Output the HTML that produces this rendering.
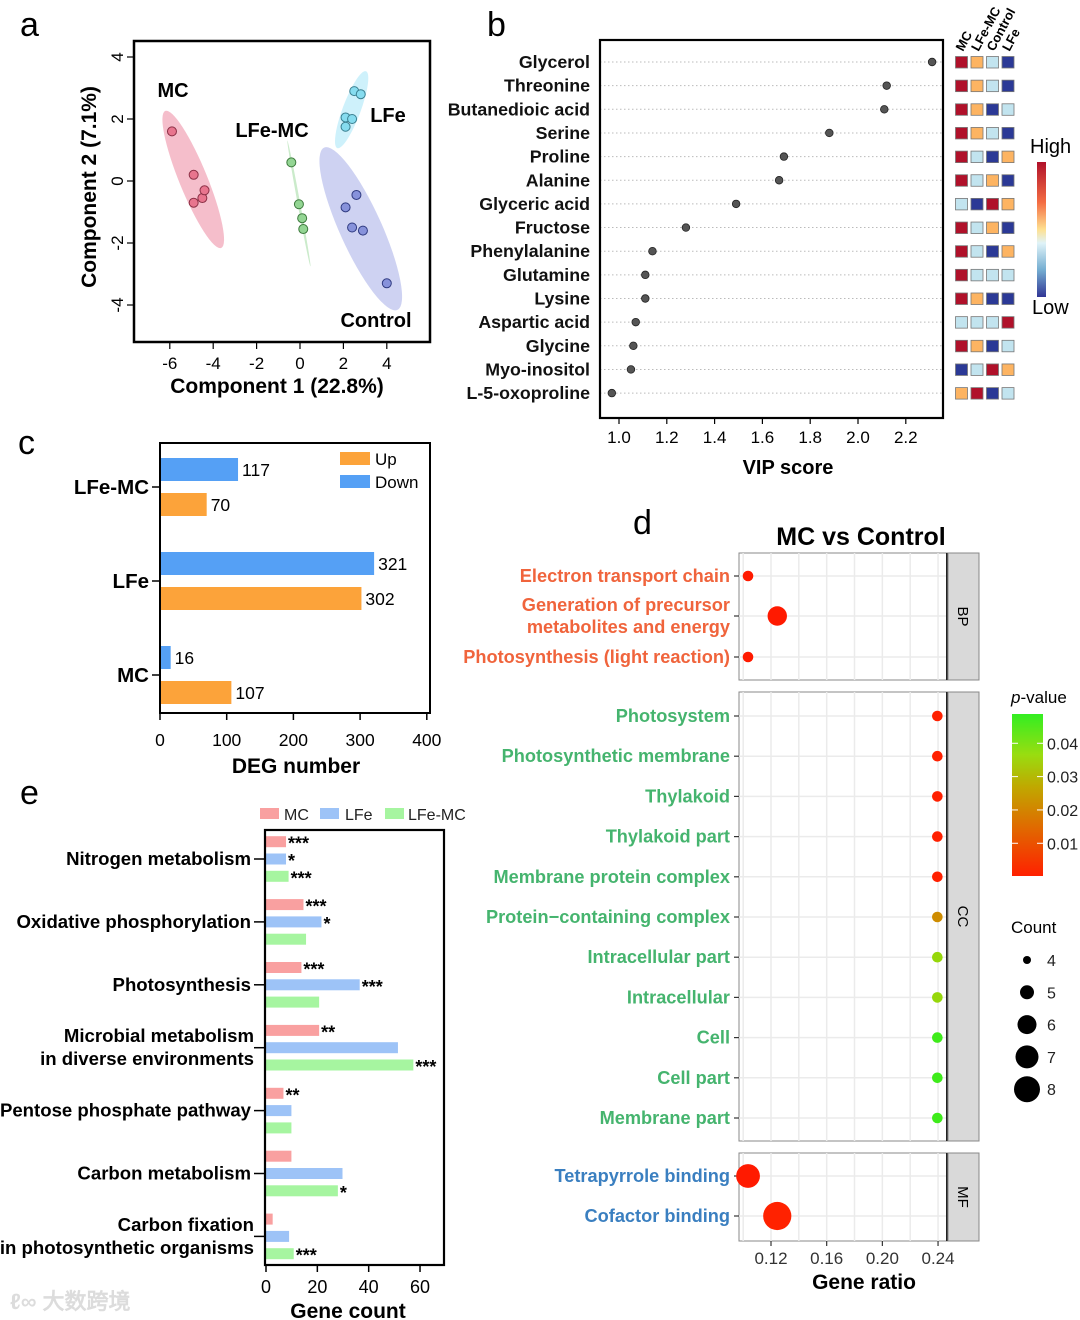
<!DOCTYPE html>
<html><head><meta charset="utf-8">
<style>
html,body{margin:0;padding:0;background:#fff;}
svg{display:block;font-family:"Liberation Sans",Arial,sans-serif;}
.b{font-weight:bold;}
</style></head>
<body>
<svg id="fig" width="1080" height="1320" viewBox="0 0 1080 1320" xmlns="http://www.w3.org/2000/svg">
<text x="20" y="36" font-size="34">a</text>
<text x="487" y="36" font-size="34">b</text>
<text x="18" y="454" font-size="34">c</text>
<text x="633" y="534" font-size="34">d</text>
<text x="20" y="804" font-size="34">e</text>
<text x="10" y="1309" font-size="22" fill="#dcdcdc" class="b">ℓ∞ 大数跨境</text>
</svg>
<script>
// ---------- DATA ----------
// panel a
const pcaGroups = ["MC","LFe-MC","LFe","Control"];
const pcaX = [[-5.9,-4.9,-4.9,-4.5,-4.4],[-0.4,-0.05,0.1,0.15],[2.5,2.8,2.1,2.4,2.1],[2.6,2.1,2.4,2.9,4.0]];
const pcaY = [[1.6,0.2,-0.7,-0.55,-0.3],[0.6,-0.75,-1.2,-1.55],[2.9,2.8,2.05,2.0,1.75],[-0.45,-0.85,-1.5,-1.6,-3.3]];
const pcaXTicks = [-6,-4,-2,0,2,4];
const pcaYTicks = [4,2,0,-2,-4];
// panel b
const vipNames = ["Glycerol","Threonine","Butanedioic acid","Serine","Proline","Alanine","Glyceric acid","Fructose","Phenylalanine","Glutamine","Lysine","Aspartic acid","Glycine","Myo-inositol","L-5-oxoproline"];
const vipScores = [2.31,2.12,2.11,1.88,1.69,1.67,1.49,1.28,1.14,1.11,1.11,1.07,1.06,1.05,0.97];
const vipTicks = [1.0,1.2,1.4,1.6,1.8,2.0,2.2];
const heatCols = ["MC","LFe-MC","Control","LFe"];
const heatVals = [[3,2,1,0],[3,2,1,0],[3,2,0,1],[3,2,1,0],[3,1,0,2],[3,1,2,0],[1,0,3,2],[3,1,2,0],[3,1,0,2],[3,1,1,1],[3,2,0,0],[1,1,1,3],[3,2,0,1],[0,1,3,2],[2,3,0,1]];
// panel c
const degCats = ["LFe-MC","LFe","MC"];
const degDown = [117,321,16];
const degUp = [70,302,107];
const degTicks = [0,100,200,300,400];
// panel d
const goBP = ["Electron transport chain","Generation of precursor|metabolites and energy","Photosynthesis (light reaction)"];
const goBPRatio = [0.1035,0.1245,0.1035];
const goBPCount = [4,6,4];
const goBPP = [0.003,0.003,0.003];
const goCC = ["Photosystem","Photosynthetic membrane","Thylakoid","Thylakoid part","Membrane protein complex","Protein\u2212containing complex","Intracellular part","Intracellular","Cell","Cell part","Membrane part"];
const goCCRatio = [0.2395,0.2395,0.2395,0.2395,0.2395,0.2395,0.2395,0.2395,0.2395,0.2395,0.2395];
const goCCCount = [4,4,4,4,4,4,4,4,4,4,4];
const goCCP = [0.006,0.006,0.006,0.006,0.006,0.026,0.04,0.04,0.048,0.048,0.048];
const goMF = ["Tetrapyrrole binding","Cofactor binding"];
const goMFRatio = [0.1035,0.1245];
const goMFCount = [7,8];
const goMFP = [0.003,0.007];
const goXTicks = [0.12,0.16,0.20,0.24];
const pTicks = [0.04,0.03,0.02,0.01];
const countLegend = [4,5,6,7,8];
// panel e
const keggCats = ["Nitrogen metabolism","Oxidative phosphorylation","Photosynthesis","Microbial metabolism|in diverse environments","Pentose phosphate pathway","Carbon metabolism","Carbon fixation|in photosynthetic organisms"];
const keggMC = [7.8,14.6,13.8,20.7,6.8,9.9,2.6];
const keggLFe = [7.8,21.6,36.5,51.4,9.9,29.8,9.0];
const keggLFeMC = [8.8,15.6,20.7,57.4,9.9,28.0,10.8];
const keggStarsMC = ["***","***","***","**","**","",""];
const keggStarsLFe = ["*","*","***","","","",""];
const keggStarsLFeMC = ["***","","","***","","*","***"];
const keggTicks = [0,20,40,60];

// ---------- helpers ----------
const NS="http://www.w3.org/2000/svg";
const svg=document.getElementById('fig');
function mk(tag,attrs,parent){const e=document.createElementNS(NS,tag);for(const k in attrs)e.setAttribute(k,attrs[k]);(parent||svg).appendChild(e);return e;}
function txt(s,attrs,parent){const e=mk('text',attrs,parent);e.textContent=s;return e;}

// ---------- panel a ----------
(function(){
const g=mk('g',{});


const xs=v=>300+v*21.7, ys=v=>181-v*31;
const fills=["#f3b3c2","#c2e8c2","#c6eefa","#c5caf0"];
const pts=["#e8758e","#93d593","#86dcef","#8792db"];
const strokes=["#8b2f45","#3d7a3d","#3a7f90","#2f3a80"];
const ell=[[74,14,67.8],[64,1.3,79.6],[41,9,-69.5],[89,21,65.7]];
pcaGroups.forEach((gn,i)=>{
 let mx=0,my=0;pcaX[i].forEach((v,j)=>{mx+=xs(v);my+=ys(pcaY[i][j]);});mx/=pcaX[i].length;my/=pcaX[i].length;
 const e=mk('ellipse',{cx:mx,cy:my,rx:ell[i][0],ry:ell[i][1],transform:`rotate(${ell[i][2]} ${mx} ${my})`,fill:fills[i],opacity:0.85},g);
 
 
});
pcaGroups.forEach((gn,i)=>{
 pcaX[i].forEach((v,j)=>{
  const c=mk('circle',{cx:xs(v),cy:ys(pcaY[i][j]),r:4.5,fill:pts[i],stroke:strokes[i],'stroke-width':1},g);
  
  
 });
});
const box=mk('rect',{x:134,y:41,width:296,height:301,fill:'none',stroke:'#000','stroke-width':2.5},g);


pcaXTicks.forEach(t=>{
 mk('line',{x1:xs(t),x2:xs(t),y1:343,y2:349,stroke:'#000','stroke-width':1.2},g);
 const l=txt(t,{x:xs(t),y:369,'font-size':17,'text-anchor':'middle'},g);
 
 
});
pcaYTicks.forEach(t=>{
 mk('line',{x1:127,x2:133,y1:ys(t),y2:ys(t),stroke:'#000','stroke-width':1.2},g);
 const l=txt(t,{x:0,y:0,'font-size':17,'text-anchor':'middle',transform:`translate(123 ${ys(t)}) rotate(-90)`},g);
 
 
});
const xt=txt('Component 1 (22.8%)',{x:277,y:393,'font-size':21,'text-anchor':'middle',class:'b'},g);


const yt=txt('Component 2 (7.1%)',{x:0,y:0,'font-size':21,'text-anchor':'middle',class:'b',transform:'translate(96 187) rotate(-90)'},g);


const lab=[["MC",173,97],["LFe-MC",272,137],["LFe",388,122],["Control",376,327]];
lab.forEach(a=>{const t=txt(a[0],{x:a[1],y:a[2],'font-size':20,'text-anchor':'middle',class:'b'},g);
 
 });
})();

// ---------- panel b ----------
(function(){
const g=mk('g',{});


const xs=v=>619+(v-1)*239, ys=i=>62+i*23.65;
vipNames.forEach((n,i)=>{
 mk('line',{x1:600,x2:943,y1:ys(i),y2:ys(i),stroke:'#bbb','stroke-width':1,'stroke-dasharray':'1.5 2.5'},g);
 const l=txt(n,{x:590,y:ys(i)+6,'font-size':17.8,'text-anchor':'end',class:'b',fill:'#111'},g);
 
 
 const c=mk('circle',{cx:xs(vipScores[i]),cy:ys(i),r:3.8,fill:'#555',stroke:'#222','stroke-width':0.8},g);
 
 
});
const box=mk('rect',{x:600,y:40,width:343,height:378,fill:'none',stroke:'#000','stroke-width':2.2},g);


vipTicks.forEach(t=>{
 mk('line',{x1:xs(t),x2:xs(t),y1:418,y2:424,stroke:'#000','stroke-width':1.2},g);
 const l=txt(t.toFixed(1),{x:xs(t),y:443,'font-size':17,'text-anchor':'middle'},g);
 
 
});
const xt=txt('VIP score',{x:788,y:474,'font-size':20,'text-anchor':'middle',class:'b'},g);


const hc=["#2b3996","#c2e4ef","#fdb462","#b0112a"];
heatVals.forEach((row,i)=>{row.forEach((v,j)=>{
 const r=mk('rect',{x:955.5+j*15.5,y:ys(i)-5.5,width:12,height:11.5,fill:hc[v],stroke:'#777','stroke-width':0.8},g);
 
 
});});
heatCols.forEach((c,j)=>{
 const t=txt(c,{x:0,y:0,'font-size':13,class:'b',transform:`translate(${963+j*15.5} 52) rotate(-62)`},g);
 
 
});
const defs=mk('defs',{},svg);
const lg=mk('linearGradient',{id:'hl',x1:0,y1:0,x2:0,y2:1},defs);
[["0","#b0112a"],["0.3","#f46d43"],["0.5","#fee090"],["0.6","#e0f3f8"],["0.8","#74add1"],["1","#313695"]].forEach(s=>mk('stop',{offset:s[0],'stop-color':s[1]},lg));
const cb=mk('rect',{x:1037,y:162,width:9,height:135,fill:'url(#hl)'},g);


const h=txt('High',{x:1030,y:153,'font-size':20},g);


const lo=txt('Low',{x:1032,y:314,'font-size':20},g);


})();

// ---------- panel c ----------
(function(){
const g=mk('g',{});


const xs=v=>160+v*0.667;
const yc=[487,581,675];
degCats.forEach((c,i)=>{
 const bd=mk('rect',{x:160,y:yc[i]-29,width:xs(degDown[i])-160,height:23,fill:'#55a0f5'},g);
 
 
 const bu=mk('rect',{x:160,y:yc[i]+6,width:xs(degUp[i])-160,height:23,fill:'#fca33a'},g);
 
 
 const vd=txt(degDown[i],{x:xs(degDown[i])+4,y:yc[i]-11,'font-size':17.5},g);
 
 
 const vu=txt(degUp[i],{x:xs(degUp[i])+4,y:yc[i]+24,'font-size':17.5},g);
 
 
 mk('line',{x1:152,x2:160,y1:yc[i],y2:yc[i],stroke:'#000','stroke-width':1.5},g);
 const l=txt(c,{x:149,y:yc[i]+7,'font-size':20.5,'text-anchor':'end',class:'b'},g);
 
 
});
mk('path',{d:'M160 443 L430 443 L430 713 L160 713 Z',fill:'none',stroke:'#000','stroke-width':2},g);
degTicks.forEach(t=>{
 mk('line',{x1:xs(t),x2:xs(t),y1:713,y2:720,stroke:'#000','stroke-width':1.5},g);
 const l=txt(t,{x:xs(t),y:746,'font-size':17.5,'text-anchor':'middle'},g);
 
 
});
const xt=txt('DEG number',{x:296,y:773,'font-size':21,'text-anchor':'middle',class:'b'},g);


const l1=mk('rect',{x:340,y:452,width:30,height:13,fill:'#fca33a'},g);


const t1=txt('Up',{x:375,y:465,'font-size':17},g);


const l2=mk('rect',{x:340,y:475,width:30,height:13,fill:'#55a0f5'},g);


const t2=txt('Down',{x:375,y:488,'font-size':17},g);


})();

// ---------- panel d ----------
(function(){
const g=mk('g',{});


const xs=v=>771+(v-0.12)*1392;
const rs=c=>2.2*c-3.5;
function pc(p){
 const stops=[[0,[255,20,0]],[0.01,[255,40,0]],[0.02,[230,110,0]],[0.03,[190,160,0]],[0.04,[150,215,10]],[0.05,[40,240,30]]];
 for(let i=1;i<stops.length;i++){if(p<=stops[i][0]){const a=stops[i-1],b=stops[i];const f=(p-a[0])/(b[0]-a[0]);return 'rgb('+a[1].map((v,k)=>Math.round(v+(b[1][k]-v)*f)).join(',')+')';}}
 return 'rgb(40,240,30)';
}
const t=txt('MC vs Control',{x:861,y:545,'font-size':25,'text-anchor':'middle',class:'b'},g);


const panels=[["BP",553,680,goBP,goBPRatio,goBPCount,goBPP,[576,616,657],"#f0643c"],
 ["CC",692,1141,goCC,goCCRatio,goCCCount,goCCP,null,"#45b46e"],
 ["MF",1153,1241,goMF,goMFRatio,goMFCount,goMFP,[1176,1216],"#3a7fc0"]];
panels.forEach(P=>{
 const [nm,y0,y1,labs,rat,cnt,pv,ypos,col]=P;
 const ysArr=ypos||labs.map((_,i)=>716+i*40.2);
 const fr=mk('rect',{x:739,y:y0,width:209,height:y1-y0,fill:'#fff',stroke:'#888','stroke-width':1},g);
 
 
 for(let v=0.10;v<=0.245;v+=0.02){mk('line',{x1:xs(v),x2:xs(v),y1:y0,y2:y1,stroke:'#ebebeb','stroke-width':1.5},g);}
 ysArr.forEach(y=>mk('line',{x1:739,x2:948,y1:y,y2:y,stroke:'#ebebeb','stroke-width':1.5},g));
 mk('line',{x1:947,x2:947,y1:y0,y2:y1,stroke:'#222','stroke-width':2},g);
 const st=mk('rect',{x:948,y:y0,width:31,height:y1-y0,fill:'#d9d9d9',stroke:'#888','stroke-width':1},g);
 
 
 const sl=txt(nm,{x:0,y:0,'font-size':15,'text-anchor':'middle',transform:`translate(958 ${(y0+y1)/2}) rotate(90)`},g);
 
 
 labs.forEach((L,i)=>{
  const y=ysArr[i];
  mk('line',{x1:734,x2:739,y1:y,y2:y,stroke:'#333','stroke-width':1.2},g);
  const parts=L.split('|');
  parts.forEach((p,k)=>{
   const tl=txt(p,{x:730,y:y+6+(k-(parts.length-1)/2)*22,'font-size':18.2,'text-anchor':'end',class:'b',fill:col},g);
   
   
  });
  const c=mk('circle',{cx:xs(rat[i]),cy:y,r:rs(cnt[i]),fill:pc(pv[i])},g);
  
  
 });
});
goXTicks.forEach(v=>{
 mk('line',{x1:xs(v),x2:xs(v),y1:1241,y2:1246,stroke:'#333','stroke-width':1.2},g);
 const l=txt(v.toFixed(2),{x:xs(v),y:1264,'font-size':17,'text-anchor':'middle',fill:'#333'},g);
 
 
});
const xt=txt('Gene ratio',{x:864,y:1289,'font-size':21,'text-anchor':'middle',class:'b'},g);


// p-value legend
const defs=mk('defs',{},svg);
const lg=mk('linearGradient',{id:'pg',x1:0,y1:0,x2:0,y2:1},defs);
[["0","#33ee22"],["0.25","#99dd10"],["0.45","#c0a800"],["0.7","#e06a00"],["1","#ff2000"]].forEach(s=>mk('stop',{offset:s[0],'stop-color':s[1]},lg));
const pt=txt('',{x:1011,y:703,'font-size':17},g);
pt.innerHTML='<tspan font-style="italic">p</tspan>-value';


const cb=mk('rect',{x:1012,y:714,width:31,height:162,fill:'url(#pg)'},g);


pTicks.forEach(p=>{
 const y=876.6-p*3333;
 mk('line',{x1:1012,x2:1018,y1:y,y2:y,stroke:'#fff','stroke-width':1},g);
 mk('line',{x1:1037,x2:1043,y1:y,y2:y,stroke:'#fff','stroke-width':1},g);
 const l=txt(p.toFixed(2),{x:1047,y:y+6,'font-size':16,fill:'#222'},g);
 
 
});
const ct=txt('Count',{x:1011,y:933,'font-size':17},g);


countLegend.forEach((c,i)=>{
 const y=960+i*32.3;
 const d=mk('circle',{cx:1027,cy:y,r:[4,7,9.5,11.5,13][i],fill:'#000'},g);
 
 
 const l=txt(c,{x:1047,y:y+6,'font-size':16,fill:'#222'},g);
 
 
});
})();

// ---------- panel e ----------
(function(){
const g=mk('g',{});


const xs=v=>266+v*2.567;
const series=[keggMC,keggLFe,keggLFeMC];
const stars=[keggStarsMC,keggStarsLFe,keggStarsLFeMC];
const cols=["#f9a0a0","#9dc3f7","#a6f5a0"];
const sn=["mc","lfe","lfe-mc"];
keggCats.forEach((c,i)=>{
 const yc=859+i*62.9;
 series.forEach((s,k)=>{
  const y=yc+(k-1)*17.3;
  const r=mk('rect',{x:266,y:y-5.5,width:xs(s[i])-266,height:11,fill:cols[k]},g);
  
  
  if(stars[k][i]){const st=txt(stars[k][i],{x:xs(s[i])+2,y:y+8,'font-size':18,class:'b'},g);
   
   }
 });
 mk('line',{x1:254,x2:265,y1:yc,y2:yc,stroke:'#000','stroke-width':1.5},g);
 const parts=c.split('|');
 parts.forEach((p,k)=>{
  const l=txt(p,{x:parts.length>1?254:251,y:yc+6+(k-(parts.length-1)/2)*23,'font-size':18.6,'text-anchor':'end',class:'b'},g);
  
  
 });
});
mk('rect',{x:265,y:830,width:179,height:435,fill:'none',stroke:'#000','stroke-width':2.2},g);
keggTicks.forEach(t=>{
 mk('line',{x1:xs(t),x2:xs(t),y1:1265,y2:1272,stroke:'#000','stroke-width':1.5},g);
 const l=txt(t,{x:xs(t),y:1293,'font-size':18,'text-anchor':'middle'},g);
 
 
});
const xt=txt('Gene count',{x:348,y:1318,'font-size':21,'text-anchor':'middle',class:'b'},g);


const leg=[["MC",260,284],["LFe",320,345],["LFe-MC",385,408]];
leg.forEach((L,k)=>{
 const r=mk('rect',{x:L[1],y:808,width:19,height:11,fill:cols[k]},g);
 
 
 const t=txt(L[0],{x:L[2],y:820,'font-size':16,fill:'#222'},g);
 
 
});
})();
</script>
</body></html>
